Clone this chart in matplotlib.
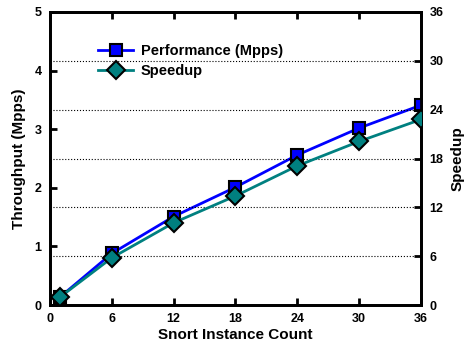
import matplotlib.pyplot as plt

plt.rcParams['font.family'] = ['Liberation Sans', 'DejaVu Sans']
plt.rcParams['font.weight'] = 'bold'

instances = [1, 6, 12, 18, 24, 30, 36]
perf_mpps = [0.14, 0.88, 1.51, 2.01, 2.56, 3.02, 3.41]
speedup = [1.0, 5.8, 10.1, 13.4, 17.1, 20.1, 22.8]

fig = plt.figure(figsize=(4.66, 3.43), dpi=100)
ax = fig.add_axes([50/466, 1-305/343, 371/466, 293/343])
ax2 = ax.twinx()

l1, = ax.plot(instances, perf_mpps, color='#0000ff', lw=2, marker='s', ms=9,
              mfc='#0000ff', mec='black', mew=1.5, zorder=3)
l2, = ax2.plot(instances, speedup, color='#008080', lw=2, marker='D', ms=9,
               mfc='#008080', mec='black', mew=1.5, zorder=3)

ax.set_xlim(0, 36)
ax.set_ylim(0, 5)
ax2.set_ylim(0, 36)
ax.set_xticks([0, 6, 12, 18, 24, 30, 36])
ax.set_yticks([0, 1, 2, 3, 4, 5])
ax2.set_yticks([0, 6, 12, 18, 24, 30, 36])
ax2.grid(True, axis='y', ls=':', color='black', lw=0.8)

for a in (ax, ax2):
    for s in a.spines.values():
        s.set_linewidth(2)
ax.tick_params(direction='in', length=5, width=2, labelsize=9, top=True, pad=6)
ax2.tick_params(direction='in', length=5, width=2, labelsize=9, pad=6)
for lab in ax.get_xticklabels() + ax.get_yticklabels() + ax2.get_yticklabels():
    lab.set_fontweight('bold')

ax.set_xlabel('Snort Instance Count', fontsize=11, fontweight='bold', labelpad=2)
ax.set_ylabel('Throughput (Mpps)', fontsize=11, fontweight='bold', labelpad=6)
ax2.set_ylabel('Speedup', fontsize=11, fontweight='bold', labelpad=5)

ax.legend([l1, l2], ['Performance (Mpps)', 'Speedup'], loc='upper left',
          bbox_to_anchor=(0.115, 0.91), frameon=False,
          handlelength=2.4, handletextpad=0.5, borderaxespad=0, labelspacing=0.4,
          prop={'weight': 'bold', 'size': 10.5})

fig.savefig('out.png', dpi=100)
